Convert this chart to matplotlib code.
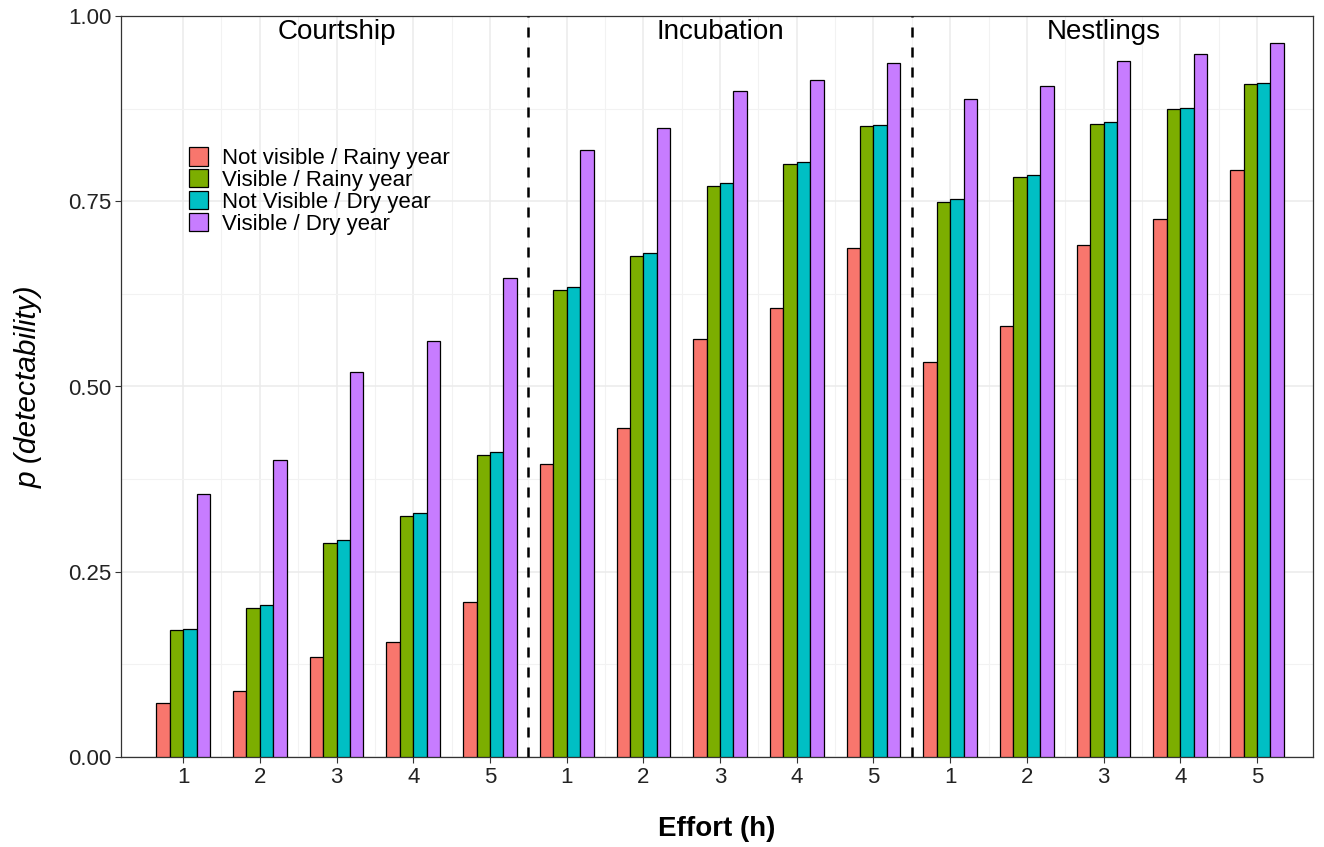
import matplotlib.pyplot as plt
import numpy as np

plt.rcParams['font.family'] = ['Liberation Sans', 'DejaVu Sans']

phases = ["Courtship", "Incubation", "Nestlings"]
efforts = ["1", "2", "3", "4", "5"]
series = ["Not visible / Rainy year", "Visible / Rainy year",
          "Not Visible / Dry year", "Visible / Dry year"]
colors = ["#F8766D", "#7CAE00", "#00BFC4", "#C77CFF"]

# 15 groups: Courtship 1-5, Incubation 1-5, Nestlings 1-5
not_vis_rainy = [0.073, 0.089, 0.135, 0.155, 0.209,
                 0.395, 0.444, 0.564, 0.606, 0.687,
                 0.533, 0.582, 0.691, 0.726, 0.792]
vis_rainy = [0.171, 0.201, 0.289, 0.325, 0.408,
             0.630, 0.676, 0.771, 0.800, 0.852,
             0.749, 0.783, 0.854, 0.874, 0.908]
not_vis_dry = [0.173, 0.205, 0.293, 0.329, 0.412,
               0.634, 0.680, 0.775, 0.803, 0.853,
               0.753, 0.785, 0.857, 0.876, 0.910]
vis_dry = [0.355, 0.401, 0.520, 0.561, 0.646,
           0.819, 0.849, 0.899, 0.914, 0.937,
           0.888, 0.906, 0.939, 0.949, 0.964]

values = [not_vis_rainy, vis_rainy, not_vis_dry, vis_dry]

fig = plt.figure(figsize=(13.24, 8.47), dpi=100)
ax = fig.add_axes([121 / 1324, 90 / 847, 1192 / 1324, 741 / 847])

x = np.arange(1, 16)
w = 0.175
for i, (vals, c, lab) in enumerate(zip(values, colors, series)):
    ax.bar(x + (i - 1.5) * w, vals, width=w, color=c, edgecolor="black",
           linewidth=0.9, label=lab, zorder=3)

# phase separators and labels
for xv in [5.5, 10.5]:
    ax.axvline(xv, color="black", linestyle=(0, (4, 4)), linewidth=1.8, zorder=4)
for k, ph in enumerate(phases):
    ax.text(3 + 5 * k, 0.978, ph, ha="center", va="center", fontsize=20, zorder=5)

ax.set_xlim(0.19, 15.73)
ax.set_ylim(0, 1)
ax.set_xticks(x)
ax.set_xticklabels(efforts * 3)
ax.set_yticks([0, 0.25, 0.5, 0.75, 1.0])
ax.set_yticklabels(["0.00", "0.25", "0.50", "0.75", "1.00"])
ax.set_yticks([0.125, 0.375, 0.625, 0.875], minor=True)
ax.set_xticks(np.arange(1.5, 15.5, 1), minor=True)
ax.grid(which="major", color="#ebebeb", linewidth=1.1, zorder=0)
ax.grid(which="minor", color="#f2f2f2", linewidth=0.8, zorder=0)
ax.tick_params(which="minor", length=0)
ax.tick_params(which="major", labelsize=16, color="#333333", length=4,
               labelcolor="#222222", pad=3)
for s in ax.spines.values():
    s.set_color("#333333")
    s.set_linewidth(0.9)

ax.set_xlabel("Effort (h)", fontsize=20, fontweight="bold", labelpad=20)
ax.set_ylabel("p (detectability)", fontsize=21.5, style="italic", labelpad=18)

ax.legend(loc="upper left", bbox_to_anchor=(0.050, 0.835), frameon=False,
          fontsize=16, handlelength=0.85, handleheight=0.9,
          labelspacing=0.0, handletextpad=0.6, borderaxespad=0)

fig.savefig("out.png", dpi=100)
